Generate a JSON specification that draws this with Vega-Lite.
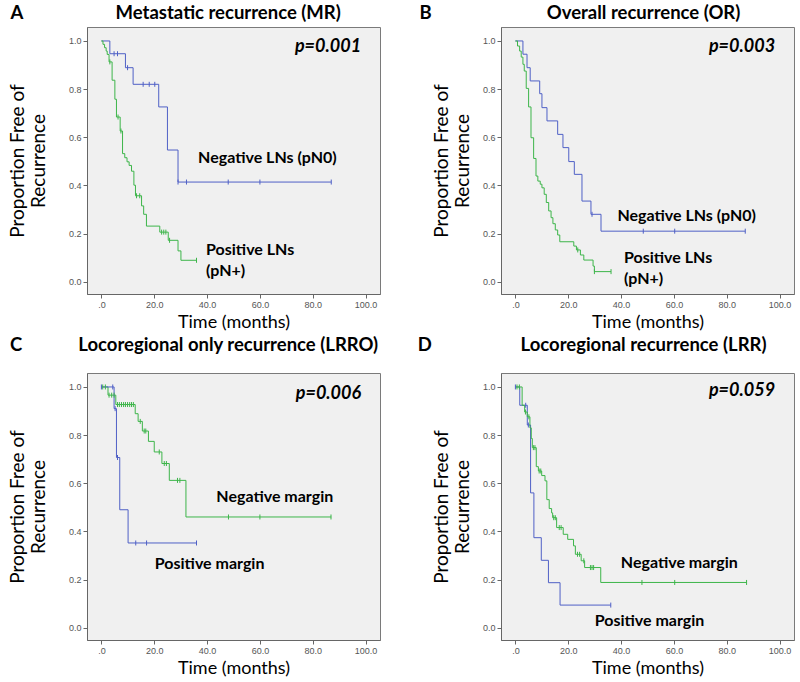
{
  "$schema": "https://vega.github.io/schema/vega-lite/v6.json",
  "background": "white",
  "padding": {"left": 7, "top": 3, "right": 4, "bottom": 4},
  "config": {
    "font": "Lato",
    "view": {"fill": "#f0f0f0", "stroke": "#7a7a7a", "strokeWidth": 1},
    "axis": {
      "grid": false,
      "domainColor": "#666666",
      "tickColor": "#666666",
      "tickSize": 4,
      "labelFont": "Liberation Sans",
      "labelFontSize": 9,
      "labelColor": "#555555",
      "labelPadding": 2,
      "titleFont": "Lato",
      "titleFontWeight": "normal",
      "titleColor": "black"
    }
  },
  "datasets": {
    "km": [
      {"panel": "A", "group": "Negative LNs (pN0)", "t": 0, "s": 1},
      {"panel": "A", "group": "Negative LNs (pN0)", "t": 3.2, "s": 0.947},
      {"panel": "A", "group": "Negative LNs (pN0)", "t": 9.1, "s": 0.889},
      {"panel": "A", "group": "Negative LNs (pN0)", "t": 12, "s": 0.82},
      {"panel": "A", "group": "Negative LNs (pN0)", "t": 21.7, "s": 0.726},
      {"panel": "A", "group": "Negative LNs (pN0)", "t": 25, "s": 0.547},
      {"panel": "A", "group": "Negative LNs (pN0)", "t": 29, "s": 0.414},
      {"panel": "A", "group": "Negative LNs (pN0)", "t": 87, "s": 0.414},
      {"panel": "A", "group": "Positive LNs (pN+)", "t": 0, "s": 1},
      {"panel": "A", "group": "Positive LNs (pN+)", "t": 0.6, "s": 0.986},
      {"panel": "A", "group": "Positive LNs (pN+)", "t": 1.2, "s": 0.972},
      {"panel": "A", "group": "Positive LNs (pN+)", "t": 1.8, "s": 0.958},
      {"panel": "A", "group": "Positive LNs (pN+)", "t": 2.2, "s": 0.944},
      {"panel": "A", "group": "Positive LNs (pN+)", "t": 2.9, "s": 0.913},
      {"panel": "A", "group": "Positive LNs (pN+)", "t": 4.05, "s": 0.837},
      {"panel": "A", "group": "Positive LNs (pN+)", "t": 5.1, "s": 0.758},
      {"panel": "A", "group": "Positive LNs (pN+)", "t": 5.7, "s": 0.684},
      {"panel": "A", "group": "Positive LNs (pN+)", "t": 7.1, "s": 0.626},
      {"panel": "A", "group": "Positive LNs (pN+)", "t": 8.0, "s": 0.532},
      {"panel": "A", "group": "Positive LNs (pN+)", "t": 8.85, "s": 0.515},
      {"panel": "A", "group": "Positive LNs (pN+)", "t": 9.7, "s": 0.498},
      {"panel": "A", "group": "Positive LNs (pN+)", "t": 10.5, "s": 0.483},
      {"panel": "A", "group": "Positive LNs (pN+)", "t": 11.4, "s": 0.459},
      {"panel": "A", "group": "Positive LNs (pN+)", "t": 12.3, "s": 0.401},
      {"panel": "A", "group": "Positive LNs (pN+)", "t": 12.9, "s": 0.357},
      {"panel": "A", "group": "Positive LNs (pN+)", "t": 15.2, "s": 0.315},
      {"panel": "A", "group": "Positive LNs (pN+)", "t": 16.0, "s": 0.28},
      {"panel": "A", "group": "Positive LNs (pN+)", "t": 17.05, "s": 0.231},
      {"panel": "A", "group": "Positive LNs (pN+)", "t": 22.1, "s": 0.206},
      {"panel": "A", "group": "Positive LNs (pN+)", "t": 25.3, "s": 0.172},
      {"panel": "A", "group": "Positive LNs (pN+)", "t": 29, "s": 0.128},
      {"panel": "A", "group": "Positive LNs (pN+)", "t": 30.1, "s": 0.089},
      {"panel": "A", "group": "Positive LNs (pN+)", "t": 36, "s": 0.089},
      {"panel": "B", "group": "Negative LNs (pN0)", "t": 0, "s": 1},
      {"panel": "B", "group": "Negative LNs (pN0)", "t": 2.85, "s": 0.945},
      {"panel": "B", "group": "Negative LNs (pN0)", "t": 4.4, "s": 0.889},
      {"panel": "B", "group": "Negative LNs (pN0)", "t": 5.6, "s": 0.834},
      {"panel": "B", "group": "Negative LNs (pN0)", "t": 9.2, "s": 0.781},
      {"panel": "B", "group": "Negative LNs (pN0)", "t": 10.05, "s": 0.723},
      {"panel": "B", "group": "Negative LNs (pN0)", "t": 11.95, "s": 0.668},
      {"panel": "B", "group": "Negative LNs (pN0)", "t": 16, "s": 0.612},
      {"panel": "B", "group": "Negative LNs (pN0)", "t": 18, "s": 0.557},
      {"panel": "B", "group": "Negative LNs (pN0)", "t": 20.2, "s": 0.499},
      {"panel": "B", "group": "Negative LNs (pN0)", "t": 22.3, "s": 0.446},
      {"panel": "B", "group": "Negative LNs (pN0)", "t": 25.2, "s": 0.335},
      {"panel": "B", "group": "Negative LNs (pN0)", "t": 28.6, "s": 0.28},
      {"panel": "B", "group": "Negative LNs (pN0)", "t": 32.4, "s": 0.21},
      {"panel": "B", "group": "Negative LNs (pN0)", "t": 87, "s": 0.21},
      {"panel": "B", "group": "Positive LNs (pN+)", "t": 0, "s": 1},
      {"panel": "B", "group": "Positive LNs (pN+)", "t": 0.8, "s": 0.979},
      {"panel": "B", "group": "Positive LNs (pN+)", "t": 1.6, "s": 0.958},
      {"panel": "B", "group": "Positive LNs (pN+)", "t": 2.2, "s": 0.933},
      {"panel": "B", "group": "Positive LNs (pN+)", "t": 2.85, "s": 0.903},
      {"panel": "B", "group": "Positive LNs (pN+)", "t": 3.35, "s": 0.875},
      {"panel": "B", "group": "Positive LNs (pN+)", "t": 4.1, "s": 0.803},
      {"panel": "B", "group": "Positive LNs (pN+)", "t": 5, "s": 0.726},
      {"panel": "B", "group": "Positive LNs (pN+)", "t": 5.9, "s": 0.598},
      {"panel": "B", "group": "Positive LNs (pN+)", "t": 6.9, "s": 0.512},
      {"panel": "B", "group": "Positive LNs (pN+)", "t": 7.8, "s": 0.439},
      {"panel": "B", "group": "Positive LNs (pN+)", "t": 8.5, "s": 0.418},
      {"panel": "B", "group": "Positive LNs (pN+)", "t": 9.4, "s": 0.405},
      {"panel": "B", "group": "Positive LNs (pN+)", "t": 10.05, "s": 0.39},
      {"panel": "B", "group": "Positive LNs (pN+)", "t": 10.9, "s": 0.363},
      {"panel": "B", "group": "Positive LNs (pN+)", "t": 11.7, "s": 0.329},
      {"panel": "B", "group": "Positive LNs (pN+)", "t": 12.6, "s": 0.294},
      {"panel": "B", "group": "Positive LNs (pN+)", "t": 13.5, "s": 0.266},
      {"panel": "B", "group": "Positive LNs (pN+)", "t": 14.2, "s": 0.241},
      {"panel": "B", "group": "Positive LNs (pN+)", "t": 15.1, "s": 0.215},
      {"panel": "B", "group": "Positive LNs (pN+)", "t": 16, "s": 0.194},
      {"panel": "B", "group": "Positive LNs (pN+)", "t": 16.8, "s": 0.166},
      {"panel": "B", "group": "Positive LNs (pN+)", "t": 22.1, "s": 0.148},
      {"panel": "B", "group": "Positive LNs (pN+)", "t": 23.1, "s": 0.132},
      {"panel": "B", "group": "Positive LNs (pN+)", "t": 24.6, "s": 0.111},
      {"panel": "B", "group": "Positive LNs (pN+)", "t": 25.9, "s": 0.09},
      {"panel": "B", "group": "Positive LNs (pN+)", "t": 29.4, "s": 0.065},
      {"panel": "B", "group": "Positive LNs (pN+)", "t": 29.9, "s": 0.042},
      {"panel": "B", "group": "Positive LNs (pN+)", "t": 36.2, "s": 0.042},
      {"panel": "C", "group": "Negative margin", "t": 0, "s": 1},
      {"panel": "C", "group": "Negative margin", "t": 2.5, "s": 0.966},
      {"panel": "C", "group": "Negative margin", "t": 5.45, "s": 0.927},
      {"panel": "C", "group": "Negative margin", "t": 12.8, "s": 0.889},
      {"panel": "C", "group": "Negative margin", "t": 13.9, "s": 0.857},
      {"panel": "C", "group": "Negative margin", "t": 15.5, "s": 0.817},
      {"panel": "C", "group": "Negative margin", "t": 17.8, "s": 0.774},
      {"panel": "C", "group": "Negative margin", "t": 20, "s": 0.73},
      {"panel": "C", "group": "Negative margin", "t": 22.9, "s": 0.682},
      {"panel": "C", "group": "Negative margin", "t": 25.7, "s": 0.612},
      {"panel": "C", "group": "Negative margin", "t": 32, "s": 0.46},
      {"panel": "C", "group": "Negative margin", "t": 87, "s": 0.46},
      {"panel": "C", "group": "Positive margin", "t": 0, "s": 1},
      {"panel": "C", "group": "Positive margin", "t": 4.8, "s": 0.91},
      {"panel": "C", "group": "Positive margin", "t": 5.7, "s": 0.707},
      {"panel": "C", "group": "Positive margin", "t": 6.95, "s": 0.49},
      {"panel": "C", "group": "Positive margin", "t": 10.1, "s": 0.352},
      {"panel": "C", "group": "Positive margin", "t": 36, "s": 0.352},
      {"panel": "D", "group": "Positive margin", "t": 0, "s": 1},
      {"panel": "D", "group": "Positive margin", "t": 1.65, "s": 0.924},
      {"panel": "D", "group": "Positive margin", "t": 4.5, "s": 0.842},
      {"panel": "D", "group": "Positive margin", "t": 5.75, "s": 0.56},
      {"panel": "D", "group": "Positive margin", "t": 7, "s": 0.374},
      {"panel": "D", "group": "Positive margin", "t": 9.8, "s": 0.28},
      {"panel": "D", "group": "Positive margin", "t": 12.5, "s": 0.187},
      {"panel": "D", "group": "Positive margin", "t": 16.9, "s": 0.094},
      {"panel": "D", "group": "Positive margin", "t": 36.1, "s": 0.094},
      {"panel": "D", "group": "Negative margin", "t": 0, "s": 1},
      {"panel": "D", "group": "Negative margin", "t": 2.55, "s": 0.924},
      {"panel": "D", "group": "Negative margin", "t": 3.5, "s": 0.896},
      {"panel": "D", "group": "Negative margin", "t": 4.5, "s": 0.876},
      {"panel": "D", "group": "Negative margin", "t": 5.5, "s": 0.83},
      {"panel": "D", "group": "Negative margin", "t": 6.0, "s": 0.786},
      {"panel": "D", "group": "Negative margin", "t": 6.4, "s": 0.748},
      {"panel": "D", "group": "Negative margin", "t": 7.9, "s": 0.669},
      {"panel": "D", "group": "Negative margin", "t": 8.7, "s": 0.651},
      {"panel": "D", "group": "Negative margin", "t": 9.95, "s": 0.632},
      {"panel": "D", "group": "Negative margin", "t": 11.2, "s": 0.61},
      {"panel": "D", "group": "Negative margin", "t": 11.9, "s": 0.532},
      {"panel": "D", "group": "Negative margin", "t": 12.8, "s": 0.495},
      {"panel": "D", "group": "Negative margin", "t": 13.7, "s": 0.477},
      {"panel": "D", "group": "Negative margin", "t": 14.1, "s": 0.457},
      {"panel": "D", "group": "Negative margin", "t": 15.6, "s": 0.416},
      {"panel": "D", "group": "Negative margin", "t": 18.1, "s": 0.388},
      {"panel": "D", "group": "Negative margin", "t": 19.8, "s": 0.367},
      {"panel": "D", "group": "Negative margin", "t": 22, "s": 0.34},
      {"panel": "D", "group": "Negative margin", "t": 22.7, "s": 0.305},
      {"panel": "D", "group": "Negative margin", "t": 24.9, "s": 0.278},
      {"panel": "D", "group": "Negative margin", "t": 26.2, "s": 0.25},
      {"panel": "D", "group": "Negative margin", "t": 32.3, "s": 0.188},
      {"panel": "D", "group": "Negative margin", "t": 87.5, "s": 0.188}
    ],
    "censor": [
      {"panel": "A", "group": "Negative LNs (pN0)", "t": 4.8, "s": 0.947},
      {"panel": "A", "group": "Negative LNs (pN0)", "t": 6.1, "s": 0.947},
      {"panel": "A", "group": "Negative LNs (pN0)", "t": 9.9, "s": 0.889},
      {"panel": "A", "group": "Negative LNs (pN0)", "t": 15.8, "s": 0.82},
      {"panel": "A", "group": "Negative LNs (pN0)", "t": 18.1, "s": 0.82},
      {"panel": "A", "group": "Negative LNs (pN0)", "t": 20.2, "s": 0.82},
      {"panel": "A", "group": "Negative LNs (pN0)", "t": 29, "s": 0.414},
      {"panel": "A", "group": "Negative LNs (pN0)", "t": 32.2, "s": 0.414},
      {"panel": "A", "group": "Negative LNs (pN0)", "t": 48, "s": 0.414},
      {"panel": "A", "group": "Negative LNs (pN0)", "t": 60, "s": 0.414},
      {"panel": "A", "group": "Negative LNs (pN0)", "t": 87, "s": 0.414},
      {"panel": "A", "group": "Positive LNs (pN+)", "t": 3.2, "s": 0.913},
      {"panel": "A", "group": "Positive LNs (pN+)", "t": 6.3, "s": 0.684},
      {"panel": "A", "group": "Positive LNs (pN+)", "t": 7.4, "s": 0.626},
      {"panel": "A", "group": "Positive LNs (pN+)", "t": 13.3, "s": 0.357},
      {"panel": "A", "group": "Positive LNs (pN+)", "t": 14.5, "s": 0.357},
      {"panel": "A", "group": "Positive LNs (pN+)", "t": 22.8, "s": 0.206},
      {"panel": "A", "group": "Positive LNs (pN+)", "t": 23.6, "s": 0.206},
      {"panel": "A", "group": "Positive LNs (pN+)", "t": 24.4, "s": 0.206},
      {"panel": "A", "group": "Positive LNs (pN+)", "t": 25.8, "s": 0.172},
      {"panel": "A", "group": "Positive LNs (pN+)", "t": 36, "s": 0.089},
      {"panel": "B", "group": "Negative LNs (pN0)", "t": 29, "s": 0.28},
      {"panel": "B", "group": "Negative LNs (pN0)", "t": 48.4, "s": 0.21},
      {"panel": "B", "group": "Negative LNs (pN0)", "t": 60.3, "s": 0.21},
      {"panel": "B", "group": "Negative LNs (pN0)", "t": 87, "s": 0.21},
      {"panel": "B", "group": "Positive LNs (pN+)", "t": 23.6, "s": 0.132},
      {"panel": "B", "group": "Positive LNs (pN+)", "t": 29.9, "s": 0.042},
      {"panel": "B", "group": "Positive LNs (pN+)", "t": 36.2, "s": 0.042},
      {"panel": "C", "group": "Negative margin", "t": 0.5, "s": 1},
      {"panel": "C", "group": "Negative margin", "t": 1.5, "s": 1},
      {"panel": "C", "group": "Negative margin", "t": 2.9, "s": 0.966},
      {"panel": "C", "group": "Negative margin", "t": 3.9, "s": 0.966},
      {"panel": "C", "group": "Negative margin", "t": 4.8, "s": 0.966},
      {"panel": "C", "group": "Negative margin", "t": 6.1, "s": 0.927},
      {"panel": "C", "group": "Negative margin", "t": 6.8, "s": 0.927},
      {"panel": "C", "group": "Negative margin", "t": 7.6, "s": 0.927},
      {"panel": "C", "group": "Negative margin", "t": 8.4, "s": 0.927},
      {"panel": "C", "group": "Negative margin", "t": 9.1, "s": 0.927},
      {"panel": "C", "group": "Negative margin", "t": 9.9, "s": 0.927},
      {"panel": "C", "group": "Negative margin", "t": 10.7, "s": 0.927},
      {"panel": "C", "group": "Negative margin", "t": 11.4, "s": 0.927},
      {"panel": "C", "group": "Negative margin", "t": 12.1, "s": 0.927},
      {"panel": "C", "group": "Negative margin", "t": 14.7, "s": 0.857},
      {"panel": "C", "group": "Negative margin", "t": 16.2, "s": 0.817},
      {"panel": "C", "group": "Negative margin", "t": 16.8, "s": 0.817},
      {"panel": "C", "group": "Negative margin", "t": 21.9, "s": 0.73},
      {"panel": "C", "group": "Negative margin", "t": 23.8, "s": 0.682},
      {"panel": "C", "group": "Negative margin", "t": 24.6, "s": 0.682},
      {"panel": "C", "group": "Negative margin", "t": 28.8, "s": 0.612},
      {"panel": "C", "group": "Negative margin", "t": 29.7, "s": 0.612},
      {"panel": "C", "group": "Negative margin", "t": 48.1, "s": 0.46},
      {"panel": "C", "group": "Negative margin", "t": 60, "s": 0.46},
      {"panel": "C", "group": "Negative margin", "t": 86.9, "s": 0.46},
      {"panel": "C", "group": "Positive margin", "t": 0, "s": 1},
      {"panel": "C", "group": "Positive margin", "t": 4.3, "s": 1},
      {"panel": "C", "group": "Positive margin", "t": 5.2, "s": 0.91},
      {"panel": "C", "group": "Positive margin", "t": 6.1, "s": 0.707},
      {"panel": "C", "group": "Positive margin", "t": 13, "s": 0.352},
      {"panel": "C", "group": "Positive margin", "t": 17.1, "s": 0.352},
      {"panel": "C", "group": "Positive margin", "t": 36, "s": 0.352},
      {"panel": "D", "group": "Positive margin", "t": 0, "s": 1},
      {"panel": "D", "group": "Positive margin", "t": 3.9, "s": 0.924},
      {"panel": "D", "group": "Positive margin", "t": 4.9, "s": 0.842},
      {"panel": "D", "group": "Positive margin", "t": 36.1, "s": 0.094},
      {"panel": "D", "group": "Negative margin", "t": 0.6, "s": 1},
      {"panel": "D", "group": "Negative margin", "t": 1.5, "s": 1},
      {"panel": "D", "group": "Negative margin", "t": 3.8, "s": 0.896},
      {"panel": "D", "group": "Negative margin", "t": 5.1, "s": 0.876},
      {"panel": "D", "group": "Negative margin", "t": 6.8, "s": 0.748},
      {"panel": "D", "group": "Negative margin", "t": 7.4, "s": 0.748},
      {"panel": "D", "group": "Negative margin", "t": 9.0, "s": 0.651},
      {"panel": "D", "group": "Negative margin", "t": 9.6, "s": 0.651},
      {"panel": "D", "group": "Negative margin", "t": 14.5, "s": 0.457},
      {"panel": "D", "group": "Negative margin", "t": 15.1, "s": 0.457},
      {"panel": "D", "group": "Negative margin", "t": 16.6, "s": 0.416},
      {"panel": "D", "group": "Negative margin", "t": 17.3, "s": 0.416},
      {"panel": "D", "group": "Negative margin", "t": 23.5, "s": 0.305},
      {"panel": "D", "group": "Negative margin", "t": 24.3, "s": 0.305},
      {"panel": "D", "group": "Negative margin", "t": 25.9, "s": 0.278},
      {"panel": "D", "group": "Negative margin", "t": 28.4, "s": 0.25},
      {"panel": "D", "group": "Negative margin", "t": 29.0, "s": 0.25},
      {"panel": "D", "group": "Negative margin", "t": 29.6, "s": 0.25},
      {"panel": "D", "group": "Negative margin", "t": 47.9, "s": 0.188},
      {"panel": "D", "group": "Negative margin", "t": 60.3, "s": 0.188},
      {"panel": "D", "group": "Negative margin", "t": 87.5, "s": 0.188}
    ],
    "notes": [
      {"panel": "A", "kind": "p", "text": "p=0.001", "t": 98.3, "s": 0.975},
      {"panel": "A", "kind": "label", "text": "Negative LNs (pN0)", "t": 36.6, "s": 0.514},
      {"panel": "A", "kind": "label", "text": "Positive LNs\n(pN+)", "t": 39.6, "s": 0.13},
      {"panel": "A", "kind": "head", "text": "A", "t": -32, "s": 1.116},
      {"panel": "A", "kind": "head", "text": "Metastatic recurrence (MR)", "t": 48, "s": 1.116},
      {"panel": "B", "kind": "p", "text": "p=0.003", "t": 98.3, "s": 0.975},
      {"panel": "B", "kind": "label", "text": "Negative LNs (pN0)", "t": 38.6, "s": 0.273},
      {"panel": "B", "kind": "label", "text": "Positive LNs\n(pN+)", "t": 41.1, "s": 0.097},
      {"panel": "B", "kind": "head", "text": "B", "t": -34, "s": 1.116},
      {"panel": "B", "kind": "head", "text": "Overall recurrence (OR)", "t": 48.5, "s": 1.116},
      {"panel": "C", "kind": "p", "text": "p=0.006", "t": 98.3, "s": 0.971},
      {"panel": "C", "kind": "label", "text": "Negative margin", "t": 43.5, "s": 0.543},
      {"panel": "C", "kind": "label", "text": "Positive margin", "t": 20.2, "s": 0.266},
      {"panel": "C", "kind": "head", "text": "C", "t": -32.3, "s": 1.175},
      {"panel": "C", "kind": "head", "text": "Locoregional only recurrence (LRRO)", "t": 48, "s": 1.175},
      {"panel": "D", "kind": "p", "text": "p=0.059", "t": 98.3, "s": 0.983},
      {"panel": "D", "kind": "label", "text": "Negative margin", "t": 39.9, "s": 0.27},
      {"panel": "D", "kind": "label", "text": "Positive margin", "t": 30, "s": 0.028},
      {"panel": "D", "kind": "head", "text": "D", "t": -34.3, "s": 1.175},
      {"panel": "D", "kind": "head", "text": "Locoregional recurrence (LRR)", "t": 48.5, "s": 1.175}
    ]
  },
  "columns": 2,
  "bounds": "flush",
  "spacing": {"row": 79, "column": 121},
  "concat": [
    {
      "width": 293, "height": 267,
      "encoding": {
        "x": {"field": "t", "type": "quantitative", "scale": {"domain": [-5.45, 105.45], "nice": false, "zero": false},
              "axis": {"title": "Time (months)", "values": [0, 20, 40, 60, 80, 100], "labelExpr": "datum.value === 0 ? '.0' : format(datum.value, '.1f')", "titleFontSize": 18, "titlePadding": 4}},
        "y": {"field": "s", "type": "quantitative", "scale": {"domain": [-0.051, 1.058], "nice": false, "zero": false},
              "axis": {"title": ["Proportion Free of", "Recurrence"], "values": [0, 0.2, 0.4, 0.6, 0.8, 1], "format": ".1f", "titleFontSize": 19, "titleLineHeight": 21, "titlePadding": 20}}
      },
      "layer": [
        {"data": {"name": "km"}, "transform": [{"filter": "datum.panel === 'A'"}],
         "mark": {"type": "line", "interpolate": "step-after", "strokeWidth": 1},
         "encoding": {"color": {"field": "group", "type": "nominal", "legend": null, "scale": {"domain": ["Negative LNs (pN0)", "Positive LNs (pN+)", "Positive margin", "Negative margin"], "range": ["#4f60c6", "#3db54a", "#4f60c6", "#3db54a"]}}}},
        {"data": {"name": "censor"}, "transform": [{"filter": "datum.panel === 'A'"}],
         "mark": {"type": "point", "shape": "M0,-1L0,1", "size": 25, "strokeWidth": 1, "filled": false, "opacity": 1},
         "encoding": {"color": {"field": "group", "type": "nominal", "legend": null}}},
        {"data": {"name": "notes"}, "transform": [{"filter": "datum.panel === 'A' && datum.kind === 'p'"}],
         "mark": {"type": "text", "align": "right", "baseline": "middle", "font": "Lato", "fontSize": 18, "fontWeight": "bold", "fontStyle": "italic", "color": "black"},
         "encoding": {"text": {"field": "text"}}},
        {"data": {"name": "notes"}, "transform": [{"filter": "datum.panel === 'A' && datum.kind === 'label'"}],
         "mark": {"type": "text", "align": "left", "baseline": "middle", "font": "Lato", "fontSize": 16, "fontWeight": "bold", "lineBreak": "\n", "lineHeight": 21, "color": "black"},
         "encoding": {"text": {"field": "text"}}},
        {"data": {"name": "notes"}, "transform": [{"filter": "datum.panel === 'A' && datum.kind === 'head'"}],
         "mark": {"type": "text", "align": "center", "baseline": "middle", "font": "Lato", "fontSize": 18.5, "fontWeight": "bold", "color": "black"},
         "encoding": {"text": {"field": "text"}}}
      ]
    },
    {
      "width": 293, "height": 267,
      "encoding": {
        "x": {"field": "t", "type": "quantitative", "scale": {"domain": [-5.45, 105.45], "nice": false, "zero": false},
              "axis": {"title": "Time (months)", "values": [0, 20, 40, 60, 80, 100], "labelExpr": "datum.value === 0 ? '.0' : format(datum.value, '.1f')", "titleFontSize": 18, "titlePadding": 4}},
        "y": {"field": "s", "type": "quantitative", "scale": {"domain": [-0.051, 1.058], "nice": false, "zero": false},
              "axis": {"title": ["Proportion Free of", "Recurrence"], "values": [0, 0.2, 0.4, 0.6, 0.8, 1], "format": ".1f", "titleFontSize": 19, "titleLineHeight": 21, "titlePadding": 10}}
      },
      "layer": [
        {"data": {"name": "km"}, "transform": [{"filter": "datum.panel === 'B'"}],
         "mark": {"type": "line", "interpolate": "step-after", "strokeWidth": 1},
         "encoding": {"color": {"field": "group", "type": "nominal", "legend": null, "scale": {"domain": ["Negative LNs (pN0)", "Positive LNs (pN+)", "Positive margin", "Negative margin"], "range": ["#4f60c6", "#3db54a", "#4f60c6", "#3db54a"]}}}},
        {"data": {"name": "censor"}, "transform": [{"filter": "datum.panel === 'B'"}],
         "mark": {"type": "point", "shape": "M0,-1L0,1", "size": 25, "strokeWidth": 1, "filled": false, "opacity": 1},
         "encoding": {"color": {"field": "group", "type": "nominal", "legend": null}}},
        {"data": {"name": "notes"}, "transform": [{"filter": "datum.panel === 'B' && datum.kind === 'p'"}],
         "mark": {"type": "text", "align": "right", "baseline": "middle", "font": "Lato", "fontSize": 18, "fontWeight": "bold", "fontStyle": "italic", "color": "black"},
         "encoding": {"text": {"field": "text"}}},
        {"data": {"name": "notes"}, "transform": [{"filter": "datum.panel === 'B' && datum.kind === 'label'"}],
         "mark": {"type": "text", "align": "left", "baseline": "middle", "font": "Lato", "fontSize": 16, "fontWeight": "bold", "lineBreak": "\n", "lineHeight": 21, "color": "black"},
         "encoding": {"text": {"field": "text"}}},
        {"data": {"name": "notes"}, "transform": [{"filter": "datum.panel === 'B' && datum.kind === 'head'"}],
         "mark": {"type": "text", "align": "center", "baseline": "middle", "font": "Lato", "fontSize": 18.5, "fontWeight": "bold", "color": "black"},
         "encoding": {"text": {"field": "text"}}}
      ]
    },
    {
      "width": 293, "height": 267,
      "encoding": {
        "x": {"field": "t", "type": "quantitative", "scale": {"domain": [-5.45, 105.45], "nice": false, "zero": false},
              "axis": {"title": "Time (months)", "values": [0, 20, 40, 60, 80, 100], "labelExpr": "datum.value === 0 ? '.0' : format(datum.value, '.1f')", "titleFontSize": 18, "titlePadding": 4}},
        "y": {"field": "s", "type": "quantitative", "scale": {"domain": [-0.051, 1.058], "nice": false, "zero": false},
              "axis": {"title": ["Proportion Free of", "Recurrence"], "values": [0, 0.2, 0.4, 0.6, 0.8, 1], "format": ".1f", "titleFontSize": 19, "titleLineHeight": 21, "titlePadding": 20}}
      },
      "layer": [
        {"data": {"name": "km"}, "transform": [{"filter": "datum.panel === 'C'"}],
         "mark": {"type": "line", "interpolate": "step-after", "strokeWidth": 1},
         "encoding": {"color": {"field": "group", "type": "nominal", "legend": null, "scale": {"domain": ["Negative LNs (pN0)", "Positive LNs (pN+)", "Positive margin", "Negative margin"], "range": ["#4f60c6", "#3db54a", "#4f60c6", "#3db54a"]}}}},
        {"data": {"name": "censor"}, "transform": [{"filter": "datum.panel === 'C'"}],
         "mark": {"type": "point", "shape": "M0,-1L0,1", "size": 25, "strokeWidth": 1, "filled": false, "opacity": 1},
         "encoding": {"color": {"field": "group", "type": "nominal", "legend": null}}},
        {"data": {"name": "notes"}, "transform": [{"filter": "datum.panel === 'C' && datum.kind === 'p'"}],
         "mark": {"type": "text", "align": "right", "baseline": "middle", "font": "Lato", "fontSize": 18, "fontWeight": "bold", "fontStyle": "italic", "color": "black"},
         "encoding": {"text": {"field": "text"}}},
        {"data": {"name": "notes"}, "transform": [{"filter": "datum.panel === 'C' && datum.kind === 'label'"}],
         "mark": {"type": "text", "align": "left", "baseline": "middle", "font": "Lato", "fontSize": 16, "fontWeight": "bold", "lineBreak": "\n", "lineHeight": 21, "color": "black"},
         "encoding": {"text": {"field": "text"}}},
        {"data": {"name": "notes"}, "transform": [{"filter": "datum.panel === 'C' && datum.kind === 'head'"}],
         "mark": {"type": "text", "align": "center", "baseline": "middle", "font": "Lato", "fontSize": 18.5, "fontWeight": "bold", "color": "black"},
         "encoding": {"text": {"field": "text"}}}
      ]
    },
    {
      "width": 293, "height": 267,
      "encoding": {
        "x": {"field": "t", "type": "quantitative", "scale": {"domain": [-5.45, 105.45], "nice": false, "zero": false},
              "axis": {"title": "Time (months)", "values": [0, 20, 40, 60, 80, 100], "labelExpr": "datum.value === 0 ? '.0' : format(datum.value, '.1f')", "titleFontSize": 18, "titlePadding": 4}},
        "y": {"field": "s", "type": "quantitative", "scale": {"domain": [-0.051, 1.058], "nice": false, "zero": false},
              "axis": {"title": ["Proportion Free of", "Recurrence"], "values": [0, 0.2, 0.4, 0.6, 0.8, 1], "format": ".1f", "titleFontSize": 19, "titleLineHeight": 21, "titlePadding": 10}}
      },
      "layer": [
        {"data": {"name": "km"}, "transform": [{"filter": "datum.panel === 'D'"}],
         "mark": {"type": "line", "interpolate": "step-after", "strokeWidth": 1},
         "encoding": {"color": {"field": "group", "type": "nominal", "legend": null, "scale": {"domain": ["Negative LNs (pN0)", "Positive LNs (pN+)", "Positive margin", "Negative margin"], "range": ["#4f60c6", "#3db54a", "#4f60c6", "#3db54a"]}}}},
        {"data": {"name": "censor"}, "transform": [{"filter": "datum.panel === 'D'"}],
         "mark": {"type": "point", "shape": "M0,-1L0,1", "size": 25, "strokeWidth": 1, "filled": false, "opacity": 1},
         "encoding": {"color": {"field": "group", "type": "nominal", "legend": null}}},
        {"data": {"name": "notes"}, "transform": [{"filter": "datum.panel === 'D' && datum.kind === 'p'"}],
         "mark": {"type": "text", "align": "right", "baseline": "middle", "font": "Lato", "fontSize": 18, "fontWeight": "bold", "fontStyle": "italic", "color": "black"},
         "encoding": {"text": {"field": "text"}}},
        {"data": {"name": "notes"}, "transform": [{"filter": "datum.panel === 'D' && datum.kind === 'label'"}],
         "mark": {"type": "text", "align": "left", "baseline": "middle", "font": "Lato", "fontSize": 16, "fontWeight": "bold", "lineBreak": "\n", "lineHeight": 21, "color": "black"},
         "encoding": {"text": {"field": "text"}}},
        {"data": {"name": "notes"}, "transform": [{"filter": "datum.panel === 'D' && datum.kind === 'head'"}],
         "mark": {"type": "text", "align": "center", "baseline": "middle", "font": "Lato", "fontSize": 18.5, "fontWeight": "bold", "color": "black"},
         "encoding": {"text": {"field": "text"}}}
      ]
    }
  ]
}
